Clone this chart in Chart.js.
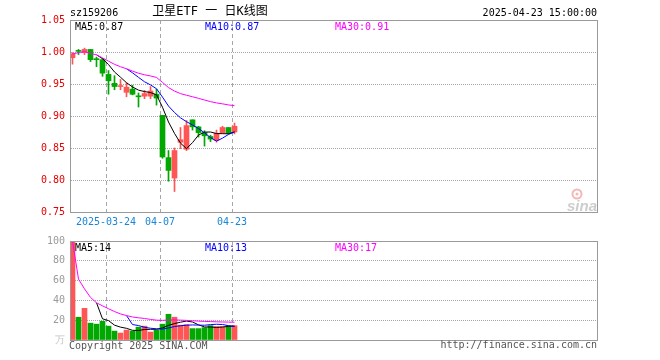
<!DOCTYPE html>
<html><head><meta charset="utf-8">
<script src="https://cdn.jsdelivr.net/npm/chart.js@4"></script>
<style>
html,body{margin:0;padding:0;background:#fff;width:660px;height:360px;overflow:hidden}
#wrap{position:relative;width:660px;height:360px}
canvas{position:absolute;left:0}
#k{top:0}
#v{top:230px}
</style></head>
<body><div id="wrap"><canvas id="k" width="660" height="230"></canvas><canvas id="v" width="660" height="130"></canvas></div>
<script>
// ---------- data ----------
const dates = ['2025-03-14','2025-03-17','2025-03-18','2025-03-19','2025-03-20','2025-03-21','2025-03-24','2025-03-25','2025-03-26','2025-03-27','2025-03-28','2025-03-31','2025-04-01','2025-04-02','2025-04-03','2025-04-07','2025-04-08','2025-04-09','2025-04-10','2025-04-11','2025-04-14','2025-04-15','2025-04-16','2025-04-17','2025-04-18','2025-04-21','2025-04-22','2025-04-23'];
const opens  = [0.991,1.002,0.999,1.004,0.989,0.988,0.965,0.951,0.946,0.937,0.942,0.931,0.931,0.931,0.934,0.901,0.835,0.803,0.859,0.848,0.894,0.883,0.874,0.868,0.862,0.874,0.882,0.875];
const highs  = [0.999,1.004,1.006,1.004,0.992,0.990,0.971,0.963,0.957,0.952,0.948,0.936,0.940,0.946,0.942,0.901,0.846,0.850,0.882,0.893,0.894,0.884,0.877,0.870,0.878,0.884,0.882,0.889];
const lows   = [0.981,0.996,0.996,0.985,0.977,0.962,0.934,0.941,0.941,0.930,0.933,0.914,0.927,0.927,0.917,0.834,0.798,0.782,0.849,0.846,0.878,0.867,0.853,0.860,0.859,0.873,0.872,0.872];
const closes = [0.997,1.001,1.004,0.988,0.988,0.967,0.955,0.946,0.947,0.945,0.934,0.930,0.935,0.939,0.928,0.836,0.815,0.846,0.863,0.885,0.883,0.874,0.869,0.864,0.873,0.882,0.873,0.884];
const volumes = [100,23,32,17,16,19,14,9,7,10,9,13,14,8,10,16,26,23,15,15.5,11.5,11.5,12.5,14.5,13.5,13.5,14.5,14.5];
const priceTicks = [0.75,0.80,0.85,0.90,0.95,1.00,1.05];
const priceTickLabels = ['0.75','0.80','0.85','0.90','0.95','1.00','1.05'];
const volTicks = [0,20,40,60,80,100];
const volTickLabels = ['万','20','40','60','80','100'];
const dateTickIdx = [6,15,27];
const dateTickLabels = ['2025-03-24','04-07','04-23'];
const code = 'sz159206';
const titleText = '卫星ETF 一 日K线图';
const timeText = '2025-04-23 15:00:00';

// ---------- helpers ----------
function movingAvg(arr, n, partial){
  return arr.map((_, i) => {
    if (i < n - 1 && !partial) return null;
    const s = arr.slice(Math.max(0, i - n + 1), i + 1);
    return s.reduce((a, b) => a + b, 0) / s.length;
  });
}
const pts = arr => arr.map((v, i) => ({x: i, y: v}));
const lastDefined = arr => arr[arr.length - 1];
const trunc = (v, d) => (Math.floor(v * Math.pow(10, d) + 1e-9) / Math.pow(10, d)).toFixed(d);

const UP = '#ff5555', DN = '#00a800';
const C5 = '#000000', C10 = '#0000ff', C30 = '#ff00ff';
const GRID = '#a6a6a6', FRAME = '#9a9a9a';
const MONO = '"DejaVu Sans Mono", "Liberation Mono", monospace';
const candleColors = closes.map((c, i) => c >= opens[i] ? UP : DN);

const xMin = -5/12, xMax = xMin + 527/6;

const pMA5 = movingAvg(closes, 5, false), pMA10 = movingAvg(closes, 10, false), pMA30 = movingAvg(closes, 30, true);
const vMA5 = movingAvg(volumes, 5, false), vMA10 = movingAvg(volumes, 10, false), vMA30 = movingAvg(volumes, 30, true);

function frame(){
  return {id: 'frame', afterDraw(chart){
    const {ctx, chartArea: a} = chart;
    ctx.save(); ctx.strokeStyle = FRAME; ctx.lineWidth = 1;
    ctx.strokeRect(a.left + 0.5, a.top + 0.5, a.right - a.left, a.bottom - a.top);
    ctx.restore();
  }};
}
function lineDs(data, color, order){
  return {type: 'line', data: pts(data), borderColor: color, borderWidth: 1, pointRadius: 0, tension: 0, fill: false, spanGaps: false, order};
}
function xScale(showLabels, h){
  return {
    type: 'linear', min: xMin, max: xMax, offset: false,
    afterBuildTicks: ax => { ax.ticks = dateTickIdx.map(i => ({value: i + xMin})); },
    afterFit: ax => { ax.height = h; },
    grid: {color: GRID, lineWidth: 1, drawTicks: false, offset: false},
    border: {display: true, color: FRAME, dash: [4, 3]},
    ticks: {display: showLabels, autoSkip: false, maxRotation: 0, minRotation: 0, padding: 4,
      color: '#1a86d6', font: {family: MONO, size: 10},
      callback: (v, i) => dateTickLabels[i]}
  };
}

// ---------- K chart ----------
const kText = {id: 'kText',
  beforeDatasetsDraw(chart){
    const {ctx, chartArea: a} = chart;
    ctx.save();
    ctx.strokeStyle = '#f3b7b7'; ctx.lineWidth = 2;
    ctx.beginPath(); ctx.arc(a.right - 20, a.bottom - 18, 4.5, 0, Math.PI * 2); ctx.stroke();
    ctx.fillStyle = '#f3b7b7'; ctx.beginPath(); ctx.arc(a.right - 20, a.bottom - 18, 1.5, 0, Math.PI * 2); ctx.fill();
    ctx.fillStyle = '#cdcdcd'; ctx.font = 'italic bold 15px "Liberation Sans", Arial, sans-serif';
    ctx.textAlign = 'right'; ctx.textBaseline = 'alphabetic';
    ctx.fillText('sina', a.right, a.bottom - 1);
    ctx.restore();
  },
  afterDraw(chart){
    const {ctx, chartArea: a} = chart;
    ctx.save(); ctx.textBaseline = 'middle';
    ctx.font = '10px ' + MONO; ctx.fillStyle = '#000'; ctx.textAlign = 'left';
    ctx.fillText(code, a.left, 13);
    ctx.textAlign = 'right'; ctx.fillText(timeText, a.right, 13);
    ctx.textAlign = 'center'; ctx.font = '12px "DejaVu Sans Mono", "Noto Sans CJK SC", monospace';
    ctx.fillText(titleText, 210, 12);
    ctx.font = '10px ' + MONO; ctx.textAlign = 'left';
    ctx.fillStyle = C5;  ctx.fillText('MA5:' + trunc(lastDefined(pMA5), 2), a.left + 5, a.top + 7);
    ctx.fillStyle = C10; ctx.fillText('MA10:' + trunc(lastDefined(pMA10), 2), a.left + 135, a.top + 7);
    ctx.fillStyle = C30; ctx.fillText('MA30:' + trunc(lastDefined(pMA30), 2), a.left + 265, a.top + 7);
    ctx.restore();
  }};

new Chart(document.getElementById('k'), {
  type: 'bar',
  data: {datasets: [
    lineDs(pMA30, C30, 0),
    lineDs(pMA10, C10, 1),
    lineDs(pMA5, C5, 2),
    {type: 'bar', data: dates.map((d, i) => ({x: i, y: [opens[i], closes[i]]})), backgroundColor: candleColors,
      barThickness: 5, minBarLength: 1, borderWidth: 0, grouped: false, order: 3},
    {type: 'bar', data: dates.map((d, i) => ({x: i, y: [lows[i], highs[i]]})), backgroundColor: candleColors,
      barThickness: 1, borderWidth: 0, grouped: false, order: 4}
  ]},
  options: {
    responsive: false, animation: false, events: [],
    layout: {padding: {left: 0, right: 63, top: 20, bottom: 0}},
    plugins: {legend: {display: false}, tooltip: {enabled: false}},
    scales: {
      x: xScale(true, 18),
      y: {
        min: 0.75, max: 1.05,
        afterBuildTicks: ax => { ax.ticks = priceTicks.map(v => ({value: v})); },
        afterFit: ax => { ax.width = 70; },
        grid: {drawTicks: false, lineWidth: 1,
          color: c => (c.index === 0 || c.index === priceTicks.length - 1) ? 'rgba(0,0,0,0)' : GRID},
        border: {display: true, color: FRAME, dash: [1, 1]},
        ticks: {color: '#e60000', font: {family: MONO, size: 10}, padding: 5,
          callback: (v, i) => priceTickLabels[i]}
      }
    }
  },
  plugins: [frame(), kText]
});

// ---------- volume chart ----------
const vText = {id: 'vText', afterDraw(chart){
  const {ctx, chartArea: a} = chart;
  ctx.save(); ctx.textBaseline = 'middle'; ctx.font = '10px ' + MONO; ctx.textAlign = 'left';
  ctx.fillStyle = C5;  ctx.fillText('MA5:' + trunc(lastDefined(vMA5), 0), a.left + 5, a.top + 7);
  ctx.fillStyle = C10; ctx.fillText('MA10:' + trunc(lastDefined(vMA10), 0), a.left + 135, a.top + 7);
  ctx.fillStyle = C30; ctx.fillText('MA30:' + trunc(lastDefined(vMA30), 0), a.left + 265, a.top + 7);
  ctx.fillStyle = '#555';
  ctx.fillText('Copyright 2025 SINA.COM', a.left - 1, a.bottom + 6.5);
  ctx.textAlign = 'right';
  ctx.fillText('http://finance.sina.com.cn', a.right, a.bottom + 5.5);
  ctx.restore();
}};

new Chart(document.getElementById('v'), {
  type: 'bar',
  data: {datasets: [
    lineDs(vMA30, C30, 0),
    lineDs(vMA10, C10, 1),
    lineDs(vMA5, C5, 2),
    {type: 'bar', data: pts(volumes), backgroundColor: candleColors, barThickness: 5, borderWidth: 0, grouped: false, order: 3}
  ]},
  options: {
    responsive: false, animation: false, events: [],
    layout: {padding: {left: 0, right: 63, top: 10, bottom: 0}},
    plugins: {legend: {display: false}, tooltip: {enabled: false}},
    scales: {
      x: xScale(false, 20),
      y: {
        min: 0, max: 100,
        afterBuildTicks: ax => { ax.ticks = volTicks.map(v => ({value: v})); },
        afterFit: ax => { ax.width = 70; },
        grid: {drawTicks: false, lineWidth: 1,
          color: c => (c.index === 0 || c.index === volTicks.length - 1) ? 'rgba(0,0,0,0)' : GRID},
        border: {display: true, color: FRAME, dash: [1, 1]},
        ticks: {color: c => c.index === 0 ? '#c4c4c4' : '#9a9a9a', font: {family: MONO, size: 10}, padding: 5,
          callback: (v, i) => volTickLabels[i]}
      }
    }
  },
  plugins: [frame(), vText]
});
</script>
</body></html>
